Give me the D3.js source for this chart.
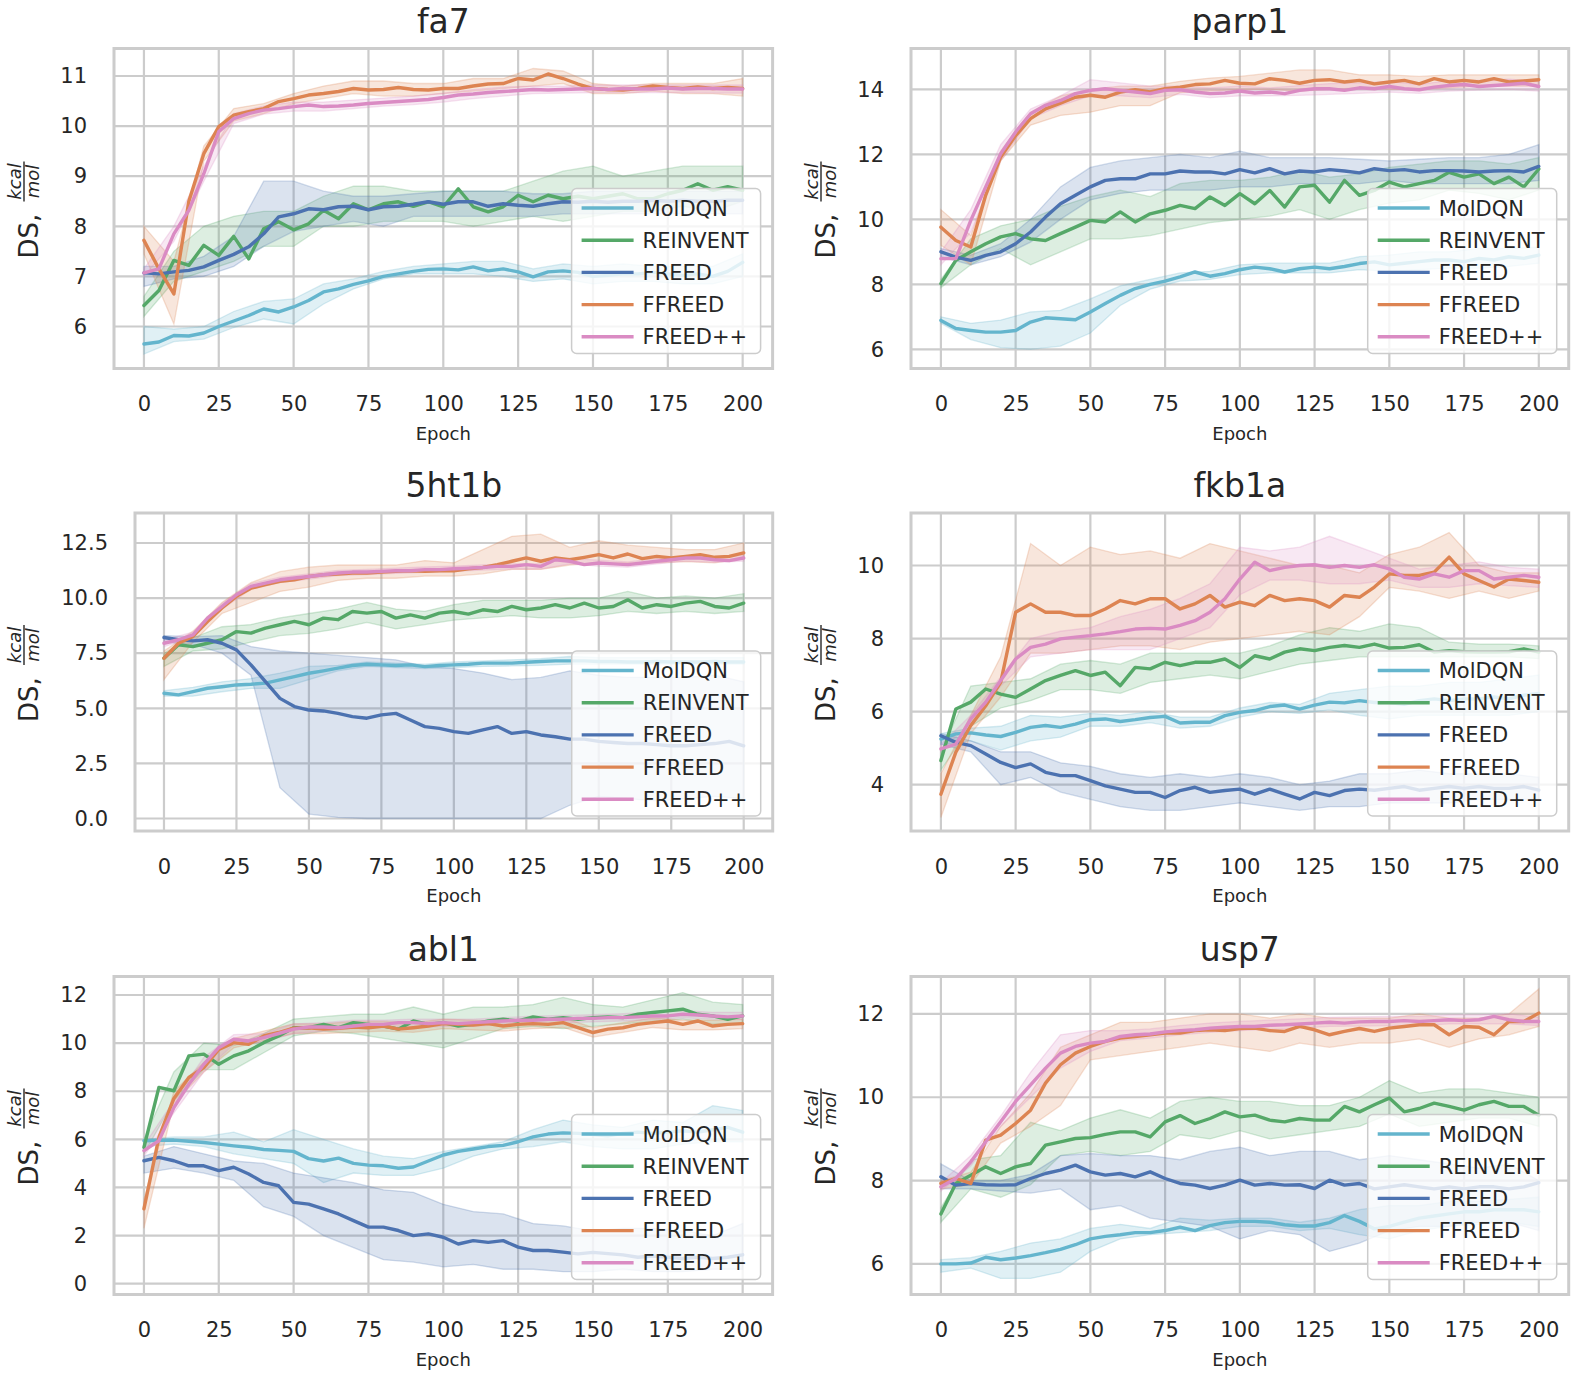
<!DOCTYPE html>
<html><head><meta charset="utf-8">
<script src="https://cdn.jsdelivr.net/npm/d3@7"></script>
<style>
body{margin:0;background:#fff;}
svg{display:block;}
text{font-family:"DejaVu Sans",sans-serif;fill:#262626;}
</style>
</head><body>
<svg id="c" width="1578" height="1380"></svg>
<script>
// ---------------- data ----------------
const epochs5 = [0,5,10,15,20,25,30,35,40,45,50,55,60,65,70,75,80,85,90,95,100,105,110,115,120,125,130,135,140,145,150,155,160,165,170,175,180,185,190,195,200];
const epochs10 = [0,10,20,30,40,50,60,70,80,90,100,110,120,130,140,150,160,170,180,190,200];
const xTickValues = [0,25,50,75,100,125,150,175,200];
const seriesNames = ["MolDQN","REINVENT","FREED","FFREED","FREED++"];
const panelTitles = ["fa7","parp1","5ht1b","fkb1a","abl1","usp7"];

// fa7
const fa7_MolDQN = [5.65,5.69,5.82,5.81,5.87,6.00,6.11,6.22,6.35,6.29,6.39,6.52,6.69,6.75,6.84,6.91,7.00,7.05,7.10,7.14,7.15,7.13,7.19,7.11,7.15,7.09,6.99,7.09,7.11,7.08,7.00,7.02,7.05,7.05,7.08,7.05,7.02,7.05,7.00,7.10,7.28];
const fa7_MolDQN_lo = [5.45,5.70,5.75,5.98,6.15,6.05,6.45,6.75,6.95,7.05,7.05,7.05,7.00,6.90,6.95,6.85,6.90,6.90,6.85,6.85,7.00];
const fa7_MolDQN_hi = [6.00,5.95,6.00,6.30,6.50,6.55,6.85,6.95,7.10,7.20,7.25,7.30,7.30,7.15,7.25,7.20,7.25,7.20,7.20,7.20,7.45];
const fa7_REINVENT = [6.42,6.72,7.32,7.22,7.62,7.42,7.80,7.35,7.95,8.09,7.93,8.05,8.32,8.15,8.45,8.33,8.45,8.49,8.40,8.49,8.39,8.75,8.39,8.29,8.39,8.62,8.49,8.62,8.55,8.60,8.55,8.60,8.65,8.55,8.55,8.65,8.72,8.85,8.72,8.79,8.72];
const fa7_REINVENT_lo = [6.20,6.90,7.10,7.30,7.60,7.60,8.00,8.00,8.10,8.10,8.10,8.00,8.10,8.20,8.10,8.20,8.30,8.30,8.40,8.30,8.50];
const fa7_REINVENT_hi = [6.60,7.50,8.00,8.20,8.30,8.30,8.60,8.80,8.80,8.70,8.70,8.70,8.70,8.90,9.10,9.20,9.00,9.10,9.20,9.20,9.20];
const fa7_FREED = [7.07,7.05,7.09,7.12,7.19,7.32,7.44,7.59,7.85,8.19,8.25,8.35,8.33,8.39,8.40,8.33,8.39,8.40,8.44,8.49,8.44,8.49,8.49,8.40,8.45,8.42,8.40,8.45,8.49,8.48,8.50,8.48,8.50,8.50,8.52,8.50,8.52,8.50,8.50,8.52,8.52];
const fa7_FREED_lo = [6.80,6.95,7.00,7.20,7.60,7.90,8.00,8.10,8.00,8.20,8.20,8.20,8.20,8.20,8.25,8.25,8.25,8.25,8.25,8.25,8.25];
const fa7_FREED_hi = [7.20,7.20,7.40,7.80,8.90,8.90,8.70,8.60,8.60,8.65,8.70,8.70,8.70,8.65,8.65,8.70,8.70,8.70,8.70,8.70,8.70];
const fa7_FFREED = [7.72,7.15,6.65,8.50,9.45,9.99,10.22,10.29,10.35,10.49,10.55,10.62,10.65,10.69,10.75,10.72,10.73,10.77,10.73,10.72,10.75,10.75,10.80,10.84,10.85,10.95,10.92,11.04,10.95,10.84,10.75,10.73,10.72,10.75,10.80,10.77,10.75,10.78,10.75,10.77,10.75];
const fa7_FFREED_lo = [7.45,6.05,9.30,10.10,10.25,10.45,10.55,10.65,10.60,10.60,10.65,10.70,10.75,10.80,10.85,10.65,10.65,10.70,10.65,10.65,10.60];
const fa7_FFREED_hi = [8.00,7.30,9.60,10.35,10.45,10.65,10.80,10.90,10.90,10.85,10.85,10.95,10.95,11.15,11.10,10.85,10.80,10.85,10.85,10.85,10.95];
const fa7_FREEDpp = [7.07,7.15,7.85,8.32,9.05,9.89,10.15,10.25,10.32,10.35,10.39,10.42,10.39,10.40,10.42,10.45,10.47,10.49,10.51,10.53,10.57,10.62,10.64,10.67,10.69,10.71,10.73,10.72,10.73,10.74,10.75,10.73,10.75,10.74,10.74,10.76,10.74,10.75,10.75,10.74,10.74];
const fa7_FREEDpp_lo = [7.00,7.70,8.90,10.05,10.24,10.30,10.30,10.35,10.40,10.43,10.48,10.55,10.60,10.65,10.66,10.67,10.67,10.67,10.67,10.66,10.66];
const fa7_FREEDpp_hi = [7.15,8.00,9.20,10.25,10.40,10.48,10.48,10.52,10.56,10.60,10.66,10.73,10.78,10.80,10.80,10.82,10.82,10.82,10.82,10.82,10.82];

// parp1
const parp1_MolDQN = [6.89,6.64,6.58,6.53,6.53,6.58,6.84,6.97,6.94,6.91,7.15,7.41,7.66,7.87,8.00,8.10,8.23,8.38,8.25,8.33,8.45,8.53,8.48,8.38,8.48,8.53,8.48,8.55,8.64,8.69,8.60,8.65,8.70,8.75,8.75,8.70,8.80,8.75,8.85,8.80,8.90];
const parp1_MolDQN_lo = [6.80,6.30,6.05,6.00,6.10,6.50,7.35,7.85,8.10,8.15,8.30,8.35,8.35,8.35,8.45,8.40,8.45,8.50,8.50,8.55,8.65];
const parp1_MolDQN_hi = [7.00,6.80,6.90,7.15,7.20,7.55,7.95,8.15,8.35,8.40,8.60,8.65,8.65,8.65,8.85,8.90,9.00,9.00,9.10,9.10,9.15];
const parp1_REINVENT = [8.02,8.74,9.00,9.25,9.46,9.56,9.40,9.35,9.56,9.76,9.97,9.92,10.23,9.92,10.17,10.28,10.43,10.33,10.69,10.43,10.79,10.48,10.89,10.38,11.00,11.05,10.53,11.20,10.74,10.89,11.15,11.00,11.10,11.20,11.45,11.30,11.40,11.10,11.30,11.00,11.55];
const parp1_REINVENT_lo = [7.90,8.60,9.10,8.60,9.00,9.40,9.40,9.50,9.70,9.90,10.00,10.10,10.30,10.00,10.30,10.50,10.60,10.90,10.80,10.60,10.90];
const parp1_REINVENT_hi = [8.15,9.40,9.80,10.00,10.40,10.70,10.90,10.70,11.10,11.20,11.20,11.30,11.50,11.30,11.40,11.60,11.70,11.80,11.80,11.70,11.90];
const parp1_FREED = [9.00,8.84,8.74,8.89,9.00,9.25,9.61,10.07,10.48,10.74,11.00,11.20,11.25,11.25,11.40,11.40,11.49,11.46,11.46,11.40,11.53,11.43,11.56,11.40,11.49,11.46,11.53,11.49,11.43,11.56,11.50,11.53,11.46,11.50,11.50,11.49,11.46,11.49,11.50,11.46,11.63];
const parp1_FREED_lo = [8.85,8.60,8.85,9.30,10.00,10.60,10.80,10.90,10.90,10.90,11.00,11.00,11.10,11.10,11.10,11.20,11.10,11.10,11.10,11.10,11.20];
const parp1_FREED_hi = [9.10,8.90,9.25,10.00,11.00,11.60,11.80,11.90,12.00,11.90,12.10,11.90,11.90,11.90,11.85,11.80,11.85,11.90,11.90,12.00,12.30];
const parp1_FFREED = [9.76,9.35,9.15,10.75,11.92,12.58,13.10,13.40,13.58,13.76,13.82,13.76,13.92,13.99,13.92,14.02,14.07,14.15,14.17,14.28,14.19,14.17,14.33,14.28,14.19,14.28,14.30,14.23,14.28,14.17,14.23,14.28,14.17,14.33,14.23,14.28,14.23,14.33,14.23,14.26,14.30];
const parp1_FFREED_lo = [9.20,8.60,11.80,12.90,13.20,13.30,13.50,13.50,13.90,13.95,14.00,14.00,13.95,14.00,14.05,14.00,14.00,14.05,14.10,14.10,14.10];
const parp1_FFREED_hi = [10.30,9.50,12.10,13.30,13.80,14.00,14.10,14.10,14.25,14.35,14.40,14.50,14.60,14.60,14.45,14.45,14.40,14.45,14.45,14.45,14.45];
const parp1_FREEDpp = [8.79,8.79,9.97,11.00,12.02,12.69,13.25,13.51,13.66,13.87,13.97,14.02,13.97,13.92,13.87,13.97,13.99,13.92,13.87,13.89,13.95,13.89,13.92,13.87,13.97,14.02,14.02,13.97,14.05,14.02,14.09,14.02,13.99,14.07,14.12,14.15,14.09,14.12,14.15,14.19,14.09];
const parp1_FREEDpp_lo = [8.60,9.60,11.80,13.10,13.50,13.80,13.80,13.75,13.85,13.75,13.80,13.80,13.82,13.85,13.88,13.92,13.88,13.95,13.98,14.00,13.95];
const parp1_FREEDpp_hi = [9.00,10.30,12.30,13.40,13.80,14.30,14.20,14.10,14.10,14.05,14.10,14.05,14.12,14.18,14.20,14.25,14.15,14.28,14.28,14.32,14.25];

// 5ht1b
const h5ht1b_MolDQN = [5.68,5.61,5.76,5.91,5.98,6.06,6.09,6.14,6.29,6.44,6.59,6.70,6.82,6.94,7.00,6.97,6.94,6.97,6.89,6.94,6.97,7.00,7.05,7.05,7.05,7.09,7.12,7.15,7.15,7.15,7.12,7.12,7.10,7.10,7.12,7.10,7.10,7.10,7.12,7.10,7.10];
const h5ht1b_MolDQN_lo = [5.55,5.55,5.75,5.90,5.90,6.30,6.70,6.90,6.85,6.80,6.85,6.90,6.92,6.95,7.00,7.00,7.00,7.00,7.00,7.00,7.00];
const h5ht1b_MolDQN_hi = [5.80,5.95,6.20,6.35,6.60,6.90,6.95,7.10,7.05,7.00,7.10,7.15,7.20,7.25,7.35,7.30,7.30,7.30,7.30,7.30,7.30];
const h5ht1b_REINVENT = [7.27,7.88,7.80,7.95,8.11,8.48,8.41,8.64,8.79,8.94,8.79,9.09,9.02,9.39,9.32,9.39,9.09,9.24,9.09,9.32,9.39,9.27,9.47,9.39,9.62,9.47,9.55,9.70,9.55,9.77,9.55,9.62,9.92,9.55,9.70,9.62,9.77,9.85,9.62,9.55,9.77];
const h5ht1b_REINVENT_lo = [6.90,7.60,7.70,8.00,8.30,8.40,8.60,8.90,8.60,8.80,9.00,9.10,9.20,9.10,9.10,9.20,9.40,9.30,9.40,9.30,9.40];
const h5ht1b_REINVENT_hi = [7.50,8.20,8.70,8.80,9.10,9.30,9.50,9.80,9.50,9.40,9.70,9.90,9.90,9.90,10.00,10.00,10.30,10.00,10.10,10.00,10.20];
const h5ht1b_FREED = [8.21,8.11,8.06,8.11,7.95,7.65,6.97,6.21,5.45,5.08,4.92,4.88,4.77,4.62,4.55,4.70,4.77,4.47,4.17,4.09,3.94,3.86,4.02,4.17,3.86,3.94,3.79,3.71,3.60,3.60,3.50,3.45,3.40,3.40,3.35,3.30,3.30,3.35,3.40,3.50,3.30];
const h5ht1b_FREED_lo = [8.00,7.90,7.50,6.50,1.40,0.20,0.05,0.00,0.00,0.00,0.00,0.00,0.00,0.00,0.60,1.00,0.90,0.80,0.90,1.00,0.90];
const h5ht1b_FREED_hi = [8.30,8.25,8.30,7.80,7.60,7.50,7.40,7.30,7.20,6.90,6.80,6.60,6.30,6.40,6.70,6.50,6.40,6.40,6.40,6.50,6.20];
const h5ht1b_FFREED = [7.27,7.95,8.26,8.94,9.55,10.08,10.45,10.61,10.76,10.83,10.98,11.06,11.09,11.14,11.14,11.18,11.21,11.24,11.21,11.24,11.24,11.33,11.39,11.52,11.67,11.82,11.67,11.82,11.74,11.85,11.97,11.82,12.00,11.79,11.89,11.82,11.89,11.97,11.85,11.89,12.05];
const h5ht1b_FFREED_lo = [6.30,8.00,9.30,9.80,10.30,10.50,10.80,10.90,10.90,11.00,11.00,11.10,11.30,11.30,11.50,11.60,11.60,11.60,11.65,11.60,11.80];
const h5ht1b_FFREED_hi = [7.60,8.50,9.80,10.70,11.20,11.40,11.50,11.50,11.50,11.70,11.60,12.20,12.80,12.90,12.30,12.60,12.40,12.30,12.20,12.20,12.50];
const h5ht1b_FREEDpp = [7.95,8.11,8.33,9.09,9.62,10.15,10.53,10.68,10.83,10.91,10.98,11.06,11.14,11.18,11.18,11.21,11.24,11.24,11.29,11.29,11.33,11.36,11.39,11.44,11.44,11.52,11.44,11.74,11.67,11.52,11.59,11.55,11.52,11.59,11.67,11.74,11.82,11.82,11.74,11.70,11.82];
const h5ht1b_FREEDpp_lo = [7.80,8.20,9.50,10.40,10.70,10.86,11.02,11.06,11.12,11.17,11.21,11.27,11.32,11.32,11.55,11.45,11.40,11.55,11.68,11.62,11.68];
const h5ht1b_FREEDpp_hi = [8.10,8.45,9.75,10.66,10.95,11.10,11.26,11.30,11.36,11.41,11.45,11.51,11.56,11.56,11.80,11.72,11.64,11.80,11.94,11.86,11.94];

// fkb1a
const fkb1a_MolDQN = [5.25,5.39,5.42,5.36,5.32,5.43,5.57,5.62,5.57,5.66,5.78,5.80,5.73,5.78,5.84,5.87,5.69,5.71,5.71,5.89,5.98,6.03,6.14,6.18,6.07,6.18,6.26,6.24,6.30,6.25,6.25,6.20,6.30,6.35,6.30,6.35,6.35,6.40,6.35,6.45,6.50];
const fkb1a_MolDQN_lo = [5.10,5.20,4.95,5.20,5.30,5.60,5.60,5.70,5.55,5.60,5.85,6.00,5.95,6.05,5.90,5.80,5.90,5.90,5.90,5.90,6.00];
const fkb1a_MolDQN_hi = [5.40,5.55,5.60,5.90,5.85,5.95,5.90,6.00,5.85,5.85,6.10,6.25,6.20,6.50,6.60,6.70,6.70,6.80,6.80,6.90,7.00];
const fkb1a_REINVENT = [4.66,6.07,6.26,6.62,6.48,6.39,6.62,6.85,6.99,7.12,6.99,7.08,6.71,7.21,7.17,7.35,7.26,7.35,7.35,7.44,7.21,7.53,7.44,7.63,7.72,7.67,7.76,7.81,7.76,7.85,7.74,7.76,7.83,7.63,7.67,7.64,7.63,7.63,7.64,7.72,7.63];
const fkb1a_REINVENT_lo = [4.40,5.60,6.10,6.30,6.60,6.60,6.50,6.80,6.90,7.00,6.90,7.10,7.30,7.40,7.50,7.50,7.50,7.50,7.50,7.50,7.45];
const fkb1a_REINVENT_hi = [4.90,6.70,6.80,6.90,7.30,7.40,7.30,7.60,7.60,7.60,7.60,7.80,8.10,8.30,8.20,8.40,8.30,7.90,7.85,7.85,7.80];
const fkb1a_FREED = [5.34,5.16,5.07,4.84,4.61,4.47,4.57,4.34,4.25,4.25,4.11,3.97,3.88,3.79,3.79,3.65,3.84,3.93,3.79,3.84,3.88,3.74,3.88,3.74,3.61,3.79,3.70,3.84,3.88,3.85,3.90,3.95,3.85,3.90,3.95,3.90,3.95,3.90,3.90,3.95,3.85];
const fkb1a_FREED_lo = [5.10,4.90,4.00,4.20,3.80,3.60,3.40,3.30,3.30,3.40,3.50,3.40,3.30,3.40,3.40,3.50,3.50,3.50,3.60,3.60,3.60];
const fkb1a_FREED_hi = [5.40,5.20,4.90,4.90,4.60,4.50,4.30,4.20,4.30,4.20,4.30,4.20,4.00,4.10,4.30,4.30,4.40,4.30,4.30,4.30,4.20];
const fkb1a_FFREED = [3.74,4.89,5.62,6.16,6.80,8.72,8.95,8.72,8.72,8.63,8.63,8.81,9.04,8.95,9.09,9.09,8.81,8.95,9.18,8.86,9.00,8.90,9.18,9.04,9.09,9.04,8.86,9.18,9.13,9.41,9.77,9.73,9.73,9.82,10.23,9.77,9.59,9.41,9.63,9.59,9.54];
const fkb1a_FFREED_lo = [3.10,5.40,6.40,7.60,7.60,7.70,7.80,7.80,7.70,7.90,8.00,8.10,8.20,8.10,8.60,9.40,9.30,9.10,9.30,9.10,9.30];
const fkb1a_FFREED_hi = [4.30,5.90,7.50,10.60,10.00,10.50,10.30,10.40,10.20,10.60,10.40,10.20,10.00,10.00,9.80,10.30,10.50,10.90,10.00,9.80,9.80];
const fkb1a_FREEDpp = [4.98,5.11,5.80,6.26,6.85,7.44,7.76,7.85,7.99,8.04,8.08,8.13,8.19,8.26,8.28,8.26,8.36,8.49,8.72,9.09,9.63,10.09,9.86,9.95,10.00,10.02,9.95,10.00,9.95,10.02,9.91,9.68,9.63,9.77,9.68,9.86,9.86,9.63,9.68,9.73,9.68];
const fkb1a_FREEDpp_lo = [4.90,5.70,6.70,7.50,7.60,7.70,7.70,7.70,8.00,8.30,9.20,9.60,9.60,9.50,9.50,9.60,9.40,9.40,9.50,9.45,9.40];
const fkb1a_FREEDpp_hi = [5.10,5.90,6.95,8.00,8.20,8.30,8.60,8.80,9.10,9.50,10.50,10.40,10.50,10.80,10.50,10.20,9.90,10.00,10.10,9.95,9.90];

// abl1
const abl1_MolDQN = [5.94,5.96,5.97,5.92,5.87,5.80,5.73,5.67,5.58,5.54,5.50,5.20,5.10,5.22,5.00,4.93,4.90,4.80,4.85,5.10,5.35,5.50,5.60,5.70,5.75,5.90,6.10,6.22,6.27,6.25,6.20,6.15,6.25,6.30,6.25,6.30,6.35,6.30,6.40,6.50,6.30];
const abl1_MolDQN_lo = [5.70,5.80,5.70,5.40,5.20,5.00,4.20,4.60,4.50,4.50,4.80,5.30,5.60,5.70,5.90,5.70,5.60,5.60,5.80,5.90,5.90];
const abl1_MolDQN_hi = [6.00,6.10,6.10,6.30,5.90,6.40,6.00,5.60,5.30,5.20,5.50,5.70,5.90,6.40,6.80,6.60,6.50,6.80,6.70,7.40,7.20];
const abl1_REINVENT = [5.67,8.16,8.02,9.47,9.54,9.12,9.47,9.68,10.02,10.30,10.64,10.64,10.78,10.64,10.85,10.78,10.71,10.58,10.92,10.78,10.85,10.71,10.78,10.92,10.99,10.92,11.09,10.99,11.06,10.99,11.06,11.09,11.06,11.20,11.27,11.34,11.41,11.20,11.13,10.99,11.13];
const abl1_REINVENT_lo = [5.40,7.60,8.90,8.90,9.60,10.30,10.50,10.40,10.20,10.00,9.80,10.20,10.60,10.70,10.60,10.70,10.80,10.90,11.00,10.80,10.80];
const abl1_REINVENT_hi = [6.00,8.80,10.00,9.90,10.40,11.00,11.10,11.20,11.20,11.50,11.20,11.50,11.50,11.60,11.90,11.60,11.50,11.80,12.10,11.70,11.60];
const abl1_FREED = [5.11,5.25,5.11,4.90,4.90,4.70,4.84,4.56,4.21,4.07,3.38,3.31,3.11,2.90,2.62,2.35,2.35,2.21,2.00,2.07,1.93,1.65,1.79,1.72,1.79,1.52,1.38,1.38,1.31,1.24,1.30,1.25,1.20,1.10,1.15,1.10,1.05,1.10,1.05,1.10,1.20];
const abl1_FREED_lo = [4.60,4.80,4.60,4.30,3.20,2.80,2.00,1.50,1.00,0.90,0.70,0.80,0.60,0.60,0.50,0.50,0.60,0.50,0.50,0.60,0.60];
const abl1_FREED_hi = [5.30,5.70,5.40,5.10,5.00,4.60,4.40,4.20,3.90,3.80,3.30,3.00,2.90,2.50,2.40,2.20,2.30,2.30,2.20,2.00,2.50];
const abl1_FFREED = [3.11,6.08,7.70,8.57,8.98,9.74,10.02,9.95,10.30,10.44,10.62,10.64,10.58,10.62,10.67,10.64,10.71,10.58,10.64,10.71,10.81,10.78,10.75,10.81,10.71,10.78,10.81,10.78,10.85,10.64,10.44,10.58,10.64,10.78,10.85,10.92,10.78,10.92,10.71,10.78,10.81];
const abl1_FFREED_lo = [2.30,7.50,8.80,9.80,10.10,10.40,10.40,10.45,10.50,10.45,10.60,10.55,10.50,10.60,10.65,10.25,10.45,10.65,10.55,10.55,10.60];
const abl1_FFREED_hi = [3.50,8.00,9.20,10.20,10.50,10.80,10.80,10.90,10.90,10.85,11.00,10.95,10.90,11.00,11.05,10.65,10.85,11.05,10.95,10.95,11.00];
const abl1_FREEDpp = [5.53,5.94,7.32,8.29,9.12,9.81,10.16,10.09,10.23,10.40,10.58,10.67,10.67,10.64,10.71,10.78,10.78,10.85,10.85,10.81,10.85,10.81,10.85,10.89,10.92,10.95,10.95,10.99,10.99,11.03,11.03,11.06,11.06,11.09,11.13,11.13,11.20,11.17,11.13,11.09,11.13];
const abl1_FREEDpp_lo = [5.30,7.10,8.80,9.95,10.05,10.40,10.50,10.60,10.65,10.65,10.70,10.70,10.78,10.80,10.85,10.88,10.92,10.98,11.05,11.00,10.98];
const abl1_FREEDpp_hi = [5.75,7.60,9.40,10.35,10.40,10.80,10.85,10.95,10.95,11.00,11.00,11.00,11.06,11.12,11.15,11.18,11.22,11.28,11.35,11.28,11.28];

// usp7
const usp7_MolDQN = [6.00,6.00,6.02,6.16,6.10,6.14,6.20,6.27,6.35,6.46,6.60,6.66,6.70,6.75,6.75,6.80,6.88,6.80,6.92,6.99,7.02,7.02,7.00,6.94,6.91,6.91,6.99,7.16,7.02,6.84,6.90,7.00,7.10,7.15,7.20,7.25,7.25,7.30,7.30,7.30,7.25];
const usp7_MolDQN_lo = [5.80,5.90,5.65,5.65,5.80,6.30,6.60,6.70,6.75,6.80,6.90,6.90,6.80,6.85,6.70,6.60,6.80,6.90,6.95,7.00,6.90];
const usp7_MolDQN_hi = [6.10,6.15,6.30,6.50,6.60,6.85,6.95,6.85,7.10,7.05,7.10,7.10,7.00,7.10,7.30,7.40,7.40,7.50,7.50,7.55,7.60];
const usp7_REINVENT = [7.20,7.93,8.13,8.33,8.17,8.33,8.41,8.85,8.93,9.01,9.03,9.11,9.17,9.17,9.05,9.41,9.56,9.37,9.49,9.65,9.53,9.57,9.45,9.41,9.49,9.45,9.45,9.78,9.65,9.82,9.98,9.65,9.73,9.86,9.78,9.69,9.82,9.90,9.78,9.78,9.57];
const usp7_REINVENT_lo = [7.00,7.80,7.60,7.90,8.60,8.70,8.60,8.70,9.10,9.00,9.20,9.00,9.10,9.20,9.30,9.60,9.30,9.40,9.50,9.50,9.30];
const usp7_REINVENT_hi = [7.35,8.50,8.60,9.40,9.20,9.50,9.70,9.50,9.90,10.00,9.90,9.90,9.80,9.80,10.00,10.40,10.10,10.20,10.20,10.10,10.00];
const usp7_FREED = [8.09,7.89,7.93,7.90,7.89,7.90,8.05,8.17,8.25,8.37,8.21,8.13,8.17,8.09,8.21,8.05,7.93,7.89,7.81,7.89,8.01,7.89,7.93,7.89,7.90,7.81,8.01,7.89,7.93,7.80,7.85,7.90,7.85,7.80,7.85,7.80,7.85,7.85,7.80,7.85,7.95];
const usp7_FREED_lo = [7.80,7.80,7.75,7.70,7.80,7.30,7.40,7.10,7.00,6.90,6.60,6.80,6.70,6.30,6.50,6.80,6.90,6.90,7.00,7.00,6.80];
const usp7_FREED_hi = [8.40,8.00,8.00,8.15,8.60,8.65,8.60,8.60,8.50,8.70,8.80,8.60,8.70,8.70,8.50,8.60,8.50,8.40,8.30,8.40,8.00];
const usp7_FFREED = [7.93,8.05,7.93,8.97,9.09,9.37,9.69,10.34,10.78,11.06,11.22,11.34,11.42,11.46,11.50,11.54,11.54,11.60,11.62,11.60,11.65,11.66,11.60,11.58,11.70,11.62,11.50,11.58,11.65,11.58,11.66,11.70,11.74,11.74,11.50,11.70,11.68,11.50,11.82,11.82,12.02];
const usp7_FFREED_lo = [7.80,7.90,8.90,9.30,9.80,10.90,11.00,11.10,11.20,11.30,11.20,11.10,11.30,11.20,11.30,11.30,11.40,11.20,11.40,11.50,11.70];
const usp7_FFREED_hi = [8.00,8.20,9.30,10.10,11.20,11.50,11.80,11.80,11.90,12.00,12.00,11.90,12.00,11.90,11.90,11.90,12.00,11.90,11.90,12.00,12.60];
const usp7_FREEDpp = [7.85,8.05,8.45,8.93,9.41,9.90,10.30,10.70,11.06,11.22,11.30,11.34,11.46,11.50,11.52,11.57,11.60,11.62,11.66,11.68,11.70,11.70,11.73,11.74,11.76,11.78,11.80,11.78,11.81,11.82,11.82,11.84,11.82,11.84,11.86,11.84,11.86,11.94,11.86,11.82,11.82];
const usp7_FREEDpp_lo = [7.75,8.35,9.30,10.00,10.70,11.10,11.36,11.42,11.50,11.56,11.60,11.63,11.66,11.70,11.71,11.72,11.72,11.76,11.76,11.76,11.72];
const usp7_FREEDpp_hi = [7.95,8.60,9.55,10.60,11.50,11.60,11.60,11.64,11.72,11.78,11.82,11.85,11.88,11.92,11.93,11.94,11.94,11.98,11.98,12.00,11.92];

// y tick values per panel
const fa7_yTicks = [6,7,8,9,10,11];
const parp1_yTicks = [6,8,10,12,14];
const h5ht1b_yTicks = [0,2.5,5,7.5,10,12.5];
const fkb1a_yTicks = [4,6,8,10];
const abl1_yTicks = [0,2,4,6,8,10,12];
const usp7_yTicks = [6,8,10,12];

// ---------------- styles / layout ----------------
const seriesColors = ["#64B5CD","#55A868","#4C72B0","#DD8452","#DA8BC3"];
const ser = (m,lo,hi)=>({mean:m,lo:lo,hi:hi});
const panels = [
  {title:panelTitles[0], yTicks:fa7_yTicks, fmt:d3.format("d"), left:114, right:772.6, top:48.5, bottom:368.5, ymin:5.162, ymax:11.549, labelX:37.5,
   series:[ser(fa7_MolDQN,fa7_MolDQN_lo,fa7_MolDQN_hi),ser(fa7_REINVENT,fa7_REINVENT_lo,fa7_REINVENT_hi),ser(fa7_FREED,fa7_FREED_lo,fa7_FREED_hi),ser(fa7_FFREED,fa7_FFREED_lo,fa7_FFREED_hi),ser(fa7_FREEDpp,fa7_FREEDpp_lo,fa7_FREEDpp_hi)]},
  {title:panelTitles[1], yTicks:parp1_yTicks, fmt:d3.format("d"), left:911, right:1568.7, top:48.5, bottom:368.5, ymin:5.409, ymax:15.26, labelX:834.5,
   series:[ser(parp1_MolDQN,parp1_MolDQN_lo,parp1_MolDQN_hi),ser(parp1_REINVENT,parp1_REINVENT_lo,parp1_REINVENT_hi),ser(parp1_FREED,parp1_FREED_lo,parp1_FREED_hi),ser(parp1_FFREED,parp1_FFREED_lo,parp1_FFREED_hi),ser(parp1_FREEDpp,parp1_FREEDpp_lo,parp1_FREEDpp_hi)]},
  {title:panelTitles[2], yTicks:h5ht1b_yTicks, fmt:d3.format(".1f"), left:135, right:772.7, top:513, bottom:831, ymin:-0.567, ymax:13.86, labelX:37.5,
   series:[ser(h5ht1b_MolDQN,h5ht1b_MolDQN_lo,h5ht1b_MolDQN_hi),ser(h5ht1b_REINVENT,h5ht1b_REINVENT_lo,h5ht1b_REINVENT_hi),ser(h5ht1b_FREED,h5ht1b_FREED_lo,h5ht1b_FREED_hi),ser(h5ht1b_FFREED,h5ht1b_FFREED_lo,h5ht1b_FFREED_hi),ser(h5ht1b_FREEDpp,h5ht1b_FREEDpp_lo,h5ht1b_FREEDpp_hi)]},
  {title:panelTitles[3], yTicks:fkb1a_yTicks, fmt:d3.format("d"), left:911, right:1568.7, top:513, bottom:831, ymin:2.733, ymax:11.437, labelX:834.5,
   series:[ser(fkb1a_MolDQN,fkb1a_MolDQN_lo,fkb1a_MolDQN_hi),ser(fkb1a_REINVENT,fkb1a_REINVENT_lo,fkb1a_REINVENT_hi),ser(fkb1a_FREED,fkb1a_FREED_lo,fkb1a_FREED_hi),ser(fkb1a_FFREED,fkb1a_FFREED_lo,fkb1a_FFREED_hi),ser(fkb1a_FREEDpp,fkb1a_FREEDpp_lo,fkb1a_FREEDpp_hi)]},
  {title:panelTitles[4], yTicks:abl1_yTicks, fmt:d3.format("d"), left:114, right:772.6, top:976.5, bottom:1294.5, ymin:-0.449, ymax:12.769, labelX:37.5,
   series:[ser(abl1_MolDQN,abl1_MolDQN_lo,abl1_MolDQN_hi),ser(abl1_REINVENT,abl1_REINVENT_lo,abl1_REINVENT_hi),ser(abl1_FREED,abl1_FREED_lo,abl1_FREED_hi),ser(abl1_FFREED,abl1_FFREED_lo,abl1_FFREED_hi),ser(abl1_FREEDpp,abl1_FREEDpp_lo,abl1_FREEDpp_hi)]},
  {title:panelTitles[5], yTicks:usp7_yTicks, fmt:d3.format("d"), left:911, right:1568.7, top:976.5, bottom:1294.5, ymin:5.265, ymax:12.899, labelX:834.5,
   series:[ser(usp7_MolDQN,usp7_MolDQN_lo,usp7_MolDQN_hi),ser(usp7_REINVENT,usp7_REINVENT_lo,usp7_REINVENT_hi),ser(usp7_FREED,usp7_FREED_lo,usp7_FREED_hi),ser(usp7_FFREED,usp7_FFREED_lo,usp7_FFREED_hi),ser(usp7_FREEDpp,usp7_FREEDpp_lo,usp7_FREEDpp_hi)]}
];

const GRID = "#cccccc";
const TXT = "#262626";
const LW = 3.4;
const svg = d3.select("#c");

panels.forEach(p => {
  const g = svg.append("g");
  const x = d3.scaleLinear().domain([-10,210]).range([p.left,p.right]);
  const y = d3.scaleLinear().domain([p.ymin,p.ymax]).range([p.bottom,p.top]);

  // grid
  g.append("g").selectAll("line").data(xTickValues).join("line")
    .attr("x1",d=>x(d)).attr("x2",d=>x(d)).attr("y1",p.top).attr("y2",p.bottom)
    .attr("stroke",GRID).attr("stroke-width",2.2);
  g.append("g").selectAll("line").data(p.yTicks).join("line")
    .attr("x1",p.left).attr("x2",p.right).attr("y1",d=>y(d)).attr("y2",d=>y(d))
    .attr("stroke",GRID).attr("stroke-width",2.2);

  // bands (drawn beneath all lines)
  const area = d3.area().x((d,i)=>x(epochs10[i])).y0(d=>y(d[0])).y1(d=>y(d[1]));
  p.series.forEach((s,k) => {
    const pts = s.lo.map((v,i)=>[v,s.hi[i]]);
    g.append("path").attr("d",area(pts))
      .attr("fill",seriesColors[k]).attr("fill-opacity",0.2)
      .attr("stroke",seriesColors[k]).attr("stroke-opacity",0.25).attr("stroke-width",1.3);
  });
  // mean lines
  const line = d3.line().x((d,i)=>x(epochs5[i])).y(d=>y(d));
  p.series.forEach((s,k) => {
    g.append("path").attr("d",line(s.mean))
      .attr("fill","none").attr("stroke",seriesColors[k]).attr("stroke-width",LW)
      .attr("stroke-linejoin","round").attr("stroke-linecap","round");
  });

  // frame
  g.append("rect").attr("x",p.left).attr("y",p.top)
    .attr("width",p.right-p.left).attr("height",p.bottom-p.top)
    .attr("fill","none").attr("stroke",GRID).attr("stroke-width",3);

  // tick labels
  const xa = g.append("g").attr("transform",`translate(0,${p.bottom})`)
    .call(d3.axisBottom(x).tickValues(xTickValues).tickSize(0).tickPadding(28));
  xa.select(".domain").remove();
  xa.attr("font-family","DejaVu Sans").attr("font-size",21).attr("color",TXT);
  const ya = g.append("g").attr("transform",`translate(${p.left},0)`)
    .call(d3.axisLeft(y).tickValues(p.yTicks).tickFormat(p.fmt).tickSize(0).tickPadding(27));
  ya.select(".domain").remove();
  ya.attr("font-family","DejaVu Sans").attr("font-size",21).attr("color",TXT);

  // title
  g.append("text").attr("x",(p.left+p.right)/2).attr("y",p.top-16)
    .attr("text-anchor","middle").attr("font-size",33).text(p.title);
  // x label
  g.append("text").attr("x",(p.left+p.right)/2).attr("y",p.bottom+71)
    .attr("text-anchor","middle").attr("font-size",18).text("Epoch");
  // y label: DS, kcal/mol
  const cy = (p.top+p.bottom)/2;
  const yl = g.append("g").attr("transform",`translate(${p.labelX},${cy}) rotate(-90)`);
  yl.append("text").attr("x",-50).attr("y",0).attr("font-size",26).text("DS,");
  yl.append("text").attr("x",27).attr("y",-17).attr("text-anchor","middle")
    .attr("font-size",18).attr("font-style","italic").text("kcal");
  yl.append("line").attr("x1",7).attr("x2",47).attr("y1",-13.5).attr("y2",-13.5)
    .attr("stroke",TXT).attr("stroke-width",1.4);
  yl.append("text").attr("x",27).attr("y",1).attr("text-anchor","middle")
    .attr("font-size",18).attr("font-style","italic").text("mol");

  // legend
  const lw = 189, lh = 165;
  const lx = p.right-12-lw, ly = p.bottom-15-lh;
  const lg = g.append("g");
  lg.append("rect").attr("x",lx).attr("y",ly).attr("width",lw).attr("height",lh)
    .attr("rx",5).attr("fill","#ffffff").attr("fill-opacity",0.8)
    .attr("stroke","#cccccc").attr("stroke-width",1.5);
  seriesNames.forEach((nm,k) => {
    const yy = ly+19.5+k*32.2;
    lg.append("line").attr("x1",lx+10).attr("x2",lx+62).attr("y1",yy).attr("y2",yy)
      .attr("stroke",seriesColors[k]).attr("stroke-width",LW);
    lg.append("text").attr("x",lx+71).attr("y",yy).attr("dy","0.36em")
      .attr("font-size",21).text(nm);
  });
});
</script>
</body></html>
